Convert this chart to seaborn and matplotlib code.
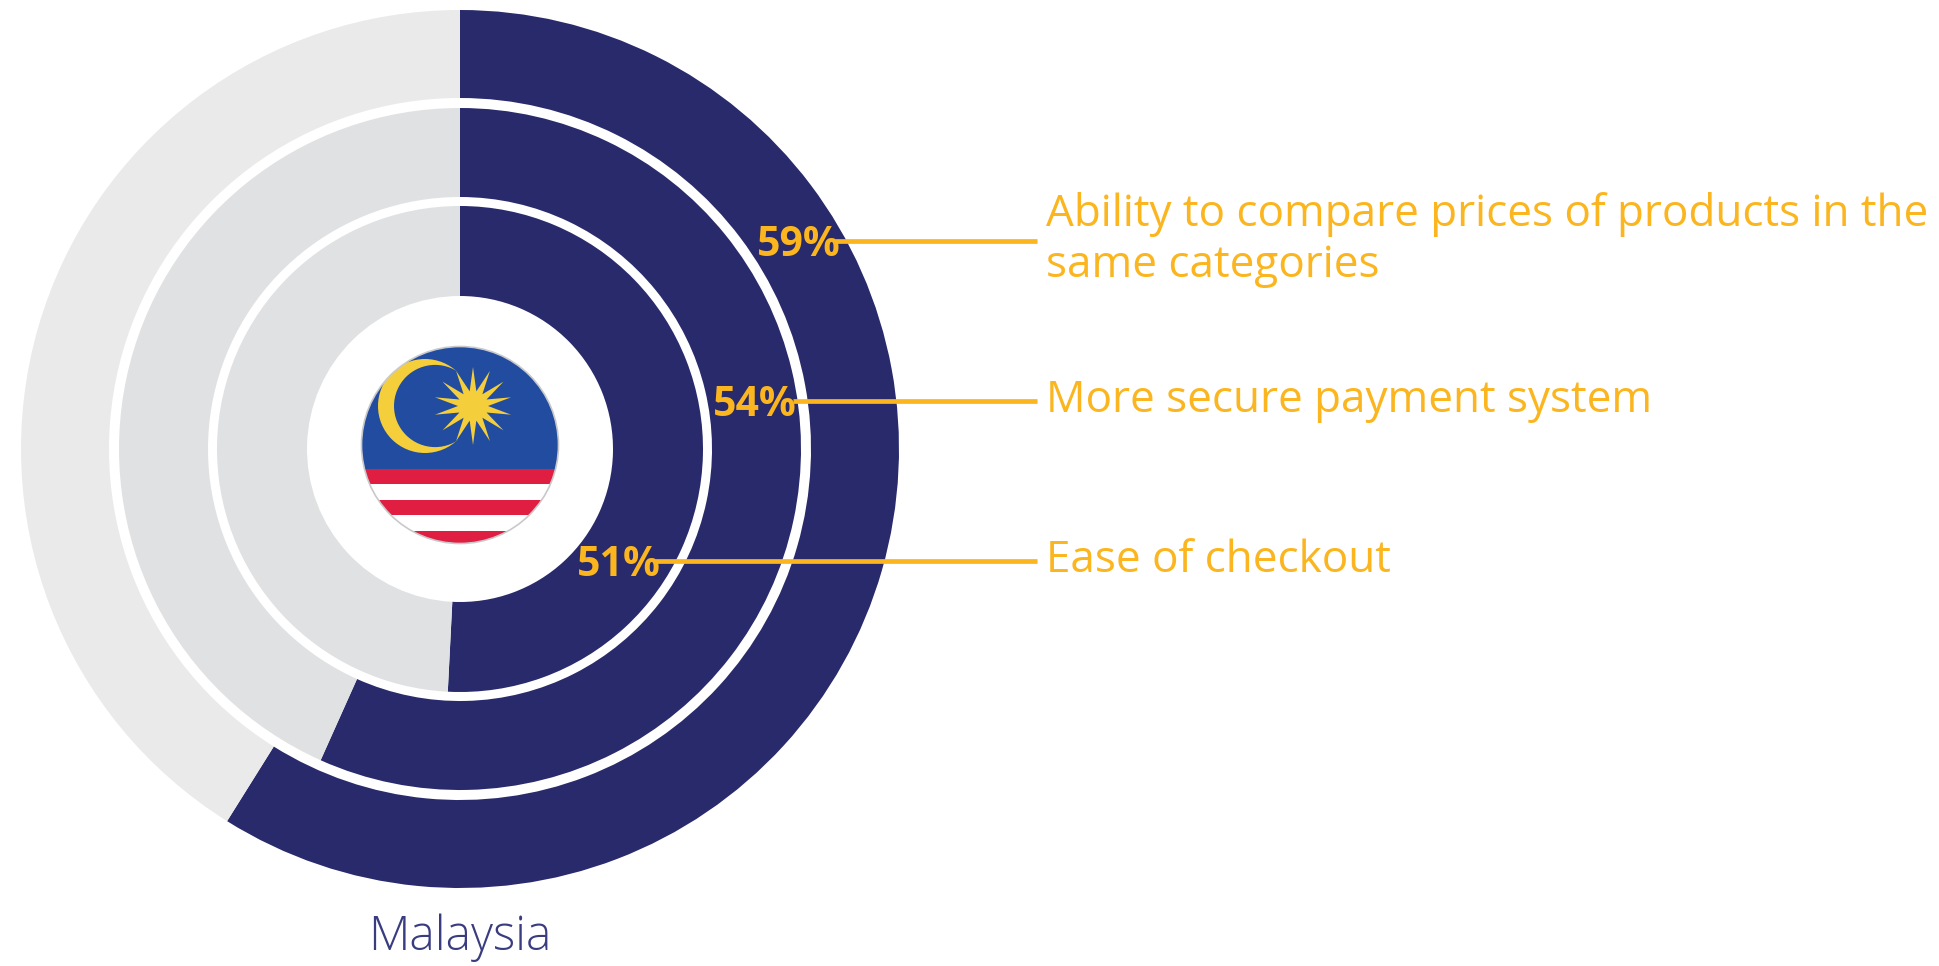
import numpy as np
import seaborn as sns
import matplotlib.pyplot as plt
from matplotlib.patches import Circle, Polygon, Rectangle

# share of each ring as drawn (the 54% ring is drawn wider than its label)
factors = ['Ability to compare prices of products in the\nsame categories',
           'More secure payment system',
           'Ease of checkout']
drawn_share = [58.9, 56.7, 50.8]
pct_labels = ['59%', '54%', '51%']
country = 'Malaysia'

navy = '#282A6B'
ring_greys = ['#EAEAEB', '#E0E1E3', '#E0E1E3']
orange = '#FBB51E'

sns.set_theme(style='white')
plt.rcParams['font.family'] = ['Open Sans', 'DejaVu Sans']

fig = plt.figure(figsize=(19.39, 9.66), dpi=100)

# rings, cropped on the right and bottom like the original
ax = fig.add_axes([0, 1 - 885 / 966, 897 / 1939, 885 / 966])
radii = [(439, 351), (341, 252), (243, 153)]
for share, (r_out, r_in), grey in zip(drawn_share, radii, ring_greys):
    ax.pie([share, 100 - share], colors=sns.color_palette([navy, grey]),
           startangle=90, counterclock=False, radius=r_out, center=(460, -449),
           wedgeprops={'width': r_out - r_in, 'linewidth': 0}, frame=True)
ax.set_xlim(0, 897)
ax.set_ylim(-885, 0)
ax.set_aspect('equal')
ax.axis('off')

# overlay in pixel coordinates for flag, leaders and text
ov = fig.add_axes([0, 0, 1, 1])
ov.set_xlim(0, 1939)
ov.set_ylim(966, 0)
ov.axis('off')
ov.patch.set_alpha(0)

# flag
clip = Circle((460, 445), 98.5, transform=ov.transData)
blue = '#224C9F'
red = '#E01E41'
yellow = '#F4CE3B'
bg = ov.add_patch(Rectangle((350, 340), 220, 215, color='white', lw=0))
bg.set_clip_path(clip)
top = ov.add_patch(Rectangle((350, 340), 220, 129, color=blue, lw=0))
top.set_clip_path(clip)
for y0, y1 in [(469, 484), (500, 515), (531, 550)]:
    s = ov.add_patch(Rectangle((350, y0), 220, y1 - y0, color=red, lw=0))
    s.set_clip_path(clip)
c1 = ov.add_patch(Circle((425, 406), 47, color=yellow, lw=0))
c1.set_clip_path(clip)
c2 = ov.add_patch(Circle((435.1, 406), 41.1, color=blue, lw=0))
c2.set_clip_path(clip)
ang = np.linspace(0, 2 * np.pi, 28, endpoint=False) - np.pi / 2
rad = np.where(np.arange(28) % 2 == 0, 39, 15)
ov.add_patch(Polygon(np.c_[473 + rad * np.cos(ang), 406 + rad * np.sin(ang)],
                     color=yellow, lw=0))
ov.add_patch(Circle((460, 445), 98.5, fc='none', ec='#C9C9CC', lw=1.2))

# leaders and labels
line_y = [241, 401, 561]
line_x0 = [835, 793, 655]
pct_x = [757, 713, 577]
for i in range(3):
    ov.plot([line_x0[i], 1037], [line_y[i], line_y[i]], color=orange, lw=3.4,
            solid_capstyle='butt')
    ov.text(pct_x[i], line_y[i] + 15, pct_labels[i], color=orange, fontsize=29.5,
            fontweight='bold', ha='left', va='baseline')

first, second = factors[0].split('\n')
text_size = 31.65
ov.text(1046, 226, first, color=orange, fontsize=text_size, ha='left', va='baseline')
ov.text(1046, 277, second, color=orange, fontsize=text_size, ha='left', va='baseline')
ov.text(1046, 412, factors[1], color=orange, fontsize=text_size, ha='left', va='baseline')
ov.text(1046, 572, factors[2], color=orange, fontsize=text_size, ha='left', va='baseline')

ov.text(460, 950, country, color='#3A3C80', fontsize=34.5, fontweight='light',
        ha='center', va='baseline')

fig.savefig('out.png', dpi=100)
